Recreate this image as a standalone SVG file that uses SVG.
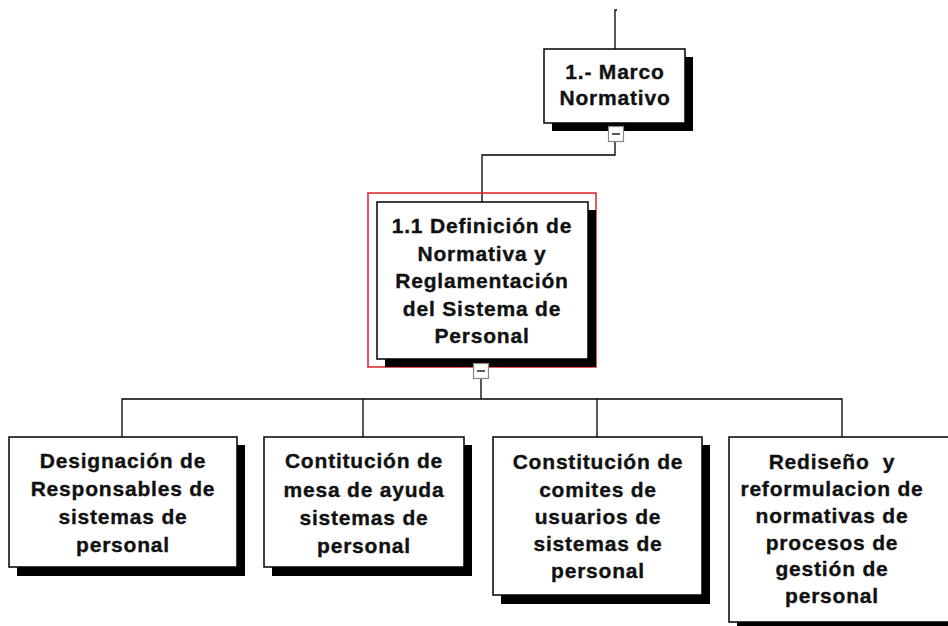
<svg xmlns="http://www.w3.org/2000/svg" width="948" height="626" viewBox="0 0 948 626">
<style>
.bg{fill:#fff}
.box{fill:#fff;stroke:#000;stroke-width:1.5}
.sh{fill:#000}
.ln{fill:none;stroke:#000;stroke-width:1.3}
.t{font-family:"Liberation Sans",Arial,sans-serif;font-weight:bold;font-size:21px;letter-spacing:0.8px;fill:#111;stroke:#111;stroke-width:0.35;text-anchor:middle;white-space:pre}
.cb{fill:#fff;stroke:#888;stroke-width:1.2}
.minus{stroke:#222;stroke-width:1.5}
.sel{fill:none;stroke:#e02020;stroke-width:1.5}
</style>
<rect class="bg" x="0" y="0" width="948" height="626"/>
<g id="connectors">
<path class="ln" d="M617,10 H615 V49"/>
<path class="ln" d="M615,142 V155 H482 V202"/>
<path class="ln" d="M481,379 V399"/>
<path class="ln" d="M122,437 V399 H842 V437"/>
<path class="ln" d="M363,399 V437"/>
<path class="ln" d="M597,399 V437"/>
</g>
<g id="n0">
<rect class="sh" x="552" y="57" width="141" height="74"/>
<rect class="box" x="544" y="49" width="141" height="74"/>
<text class="t" x="615" y="79">1.- Marco</text>
<text class="t" x="615" y="105">Normativo</text>
<rect class="cb" x="608.5" y="126.5" width="15" height="15"/>
<line class="minus" x1="612" y1="134" x2="620" y2="134"/>
</g>
<g id="n1">
<rect class="sel" x="368" y="193" width="228" height="174"/>
<rect class="sh" x="385" y="210" width="211" height="157"/>
<rect class="box" x="377" y="202" width="211" height="157"/>
<text class="t" x="482" y="233">1.1 Definición de</text>
<text class="t" x="482" y="260.5">Normativa y</text>
<text class="t" x="482" y="288">Reglamentación</text>
<text class="t" x="482" y="315.5">del Sistema de</text>
<text class="t" x="482" y="343">Personal</text>
<rect class="cb" x="473.5" y="363.5" width="15" height="15"/>
<line class="minus" x1="477" y1="371" x2="485" y2="371"/>
</g>
<g id="n2">
<rect class="sh" x="17" y="445" width="228" height="131"/>
<rect class="box" x="9" y="437" width="228" height="130"/>
<text class="t" x="123" y="468">Designación de</text>
<text class="t" x="123" y="496">Responsables de</text>
<text class="t" x="123" y="524">sistemas de</text>
<text class="t" x="123" y="552">personal</text>
</g>
<g id="n3">
<rect class="sh" x="272" y="445" width="200" height="131"/>
<rect class="box" x="264" y="437" width="200" height="130"/>
<text class="t" x="364" y="468">Contitución de</text>
<text class="t" x="364" y="496.5">mesa de ayuda</text>
<text class="t" x="364" y="525">sistemas de</text>
<text class="t" x="364" y="553">personal</text>
</g>
<g id="n4">
<rect class="sh" x="501" y="445" width="209" height="159"/>
<rect class="box" x="493" y="437" width="209" height="158"/>
<text class="t" x="598" y="469">Constitución de</text>
<text class="t" x="598" y="496.5">comites de</text>
<text class="t" x="598" y="524">usuarios de</text>
<text class="t" x="598" y="551">sistemas de</text>
<text class="t" x="598" y="578">personal</text>
</g>
<g id="n5">
<rect class="sh" x="737" y="445" width="230" height="185"/>
<rect class="box" x="729" y="437" width="230" height="185"/>
<text class="t" x="832" y="469">Rediseño  y</text>
<text class="t" x="832" y="496">reformulacion de</text>
<text class="t" x="832" y="523">normativas de</text>
<text class="t" x="832" y="549.5">procesos de</text>
<text class="t" x="832" y="576">gestión de</text>
<text class="t" x="832" y="603">personal</text>
</g>
</svg>
